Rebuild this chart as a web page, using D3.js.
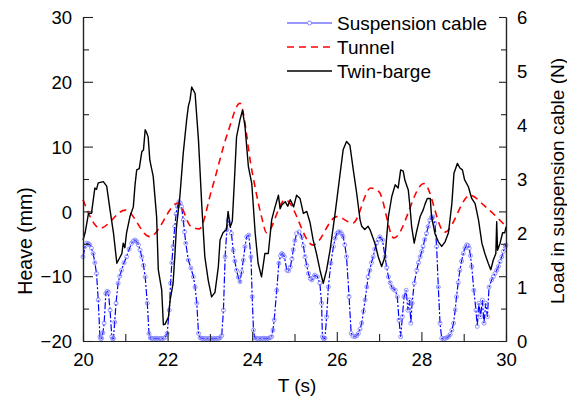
<!DOCTYPE html>
<html><head><meta charset="utf-8">
<script src="https://cdn.jsdelivr.net/npm/d3@7"></script>
<style>
body{margin:0;background:#fff;}
svg{display:block;font-family:"Liberation Sans",Arial,sans-serif;}
</style></head>
<body>
<svg id="c" width="567" height="401"></svg>
<script>
// ---- data ----
const seriesNames = ["Suspension cable","Tunnel","Twin-barge"];
const xTicks = [20,22,24,26,28,30];
const leftTicks = [-20,-10,0,10,20,30];
const rightTicks = [0,1,2,3,4,5,6];

const tunnelT = [20.0,20.4,21.0,21.58,22.25,22.55,22.75,23.04,23.43,23.71,23.99,24.22,24.34,24.78,25.44,26.0,26.38,26.8,27.0,27.35,28.06,28.55,29.15,29.5,30.0];
const tunnelH = [1.8,-2.6,0.2,-3.9,1.3,-2.3,-2.7,3.3,12.3,16.7,6.4,-0.8,-3.3,1.8,-5.2,-0.8,-1.8,3.6,3.0,-4.1,4.3,-3.2,2.5,0.8,-2.3];

const bargeT = [20.00,20.05,20.13,20.20,20.28,20.32,20.36,20.48,20.56,20.64,20.72,20.80,20.88,20.92,20.95,20.99,21.03,21.11,21.19,21.23,21.27,21.33,21.39,21.43,21.47,21.50,21.54,21.58,21.66,21.74,21.78,21.86,21.90,21.94,22.02,22.06,22.13,22.17,22.21,22.29,22.37,22.45,22.49,22.53,22.57,22.65,22.73,22.81,22.88,22.96,23.04,23.12,23.20,23.24,23.31,23.39,23.43,23.48,23.53,23.58,23.63,23.71,23.77,23.83,23.91,23.99,24.07,24.14,24.22,24.30,24.38,24.46,24.54,24.62,24.66,24.70,24.78,24.84,24.90,24.98,25.05,25.13,25.21,25.29,25.37,25.44,25.52,25.60,25.68,25.76,25.84,25.96,26.08,26.15,26.23,26.31,26.39,26.47,26.55,26.59,26.66,26.74,26.79,26.90,26.98,27.06,27.14,27.22,27.30,27.38,27.45,27.51,27.57,27.61,27.69,27.73,27.77,27.83,27.88,27.97,28.04,28.09,28.14,28.21,28.24,28.32,28.40,28.48,28.56,28.64,28.72,28.77,28.85,28.91,28.97,29.02,29.11,29.19,29.27,29.35,29.43,29.50,29.58,29.64,29.70,29.76,29.78,29.80,29.86,29.92,29.97,30.00];
const bargeH = [-4.4,-3.3,-0.3,-0.3,3.6,3.4,4.4,4.6,3.9,0.2,-3.3,-8.0,-7.0,-6.5,-4.9,-5.6,-3.3,-0.8,0.7,4.1,6.4,6.6,9.2,9.5,12.6,12.2,11.5,7.9,5.4,-0.8,-9.0,-12.1,-17.5,-17.4,-16.3,-13.7,-11.1,-7.0,-2.4,2.3,9.0,14.1,16.2,17.2,19.2,18.2,11.0,0.7,-7.0,-10.6,-13.2,-12.5,-8.5,-4.4,-3.3,-2.8,0.0,-2.4,-1.5,4.8,11.5,14.1,15.6,13.1,6.9,4.3,-3.3,-8.0,-10.1,-6.5,-6.5,-1.3,0.7,2.5,0.4,1.0,1.5,0.8,1.8,0.7,2.5,2.0,-0.3,0.0,-1.8,-4.4,-6.5,-9.0,-11.1,-9.0,-6.0,-0.3,5.9,9.5,10.8,10.2,6.4,2.8,-1.3,-2.3,-2.8,-2.3,-2.9,-4.9,-7.0,-8.5,-7.0,-0.8,2.3,4.1,3.6,6.4,6.2,4.8,3.3,0.7,-2.4,-4.9,-3.3,-0.8,0.2,1.2,2.0,2.0,-0.8,-3.4,-4.7,-5.4,-4.7,-3.3,1.2,5.9,7.4,6.7,6.4,4.9,3.8,2.0,1.2,-1.3,-4.9,-6.5,-8.0,-9.0,-7.5,-6.5,-1.6,-6.0,-4.9,-3.3,-3.3,-2.4];

const cableT = [20.00,20.05,20.09,20.13,20.16,20.20,20.24,20.28,20.32,20.36,20.40,20.42,20.44,20.47,20.50,20.54,20.57,20.60,20.64,20.68,20.70,20.72,20.75,20.78,20.83,20.87,20.91,20.97,21.03,21.09,21.15,21.19,21.23,21.27,21.31,21.35,21.39,21.43,21.47,21.52,21.56,21.59,21.62,21.66,21.70,21.74,21.78,21.82,21.86,21.90,21.95,21.99,22.04,22.07,22.10,22.13,22.17,22.20,22.23,22.27,22.30,22.33,22.37,22.40,22.43,22.49,22.55,22.61,22.65,22.69,22.73,22.77,22.81,22.85,22.89,22.93,22.97,23.01,23.05,23.09,23.13,23.17,23.21,23.24,23.28,23.32,23.36,23.40,23.43,23.47,23.51,23.55,23.59,23.63,23.67,23.71,23.75,23.79,23.83,23.87,23.92,23.97,24.00,24.03,24.06,24.10,24.14,24.18,24.22,24.26,24.30,24.34,24.38,24.42,24.46,24.49,24.52,24.58,24.63,24.67,24.70,24.73,24.76,24.82,24.86,24.90,24.94,24.97,25.01,25.05,25.11,25.17,25.21,25.25,25.29,25.33,25.37,25.41,25.45,25.48,25.54,25.60,25.64,25.66,25.69,25.72,25.76,25.80,25.86,25.92,25.96,26.00,26.04,26.08,26.12,26.15,26.19,26.23,26.29,26.34,26.38,26.43,26.47,26.51,26.55,26.59,26.63,26.67,26.71,26.74,26.78,26.82,26.86,26.90,26.94,26.98,27.02,27.08,27.14,27.18,27.22,27.26,27.30,27.34,27.38,27.43,27.47,27.51,27.55,27.59,27.64,27.68,27.72,27.75,27.78,27.83,27.89,27.93,27.97,28.01,28.04,28.08,28.12,28.16,28.20,28.24,28.27,28.32,28.36,28.40,28.44,28.48,28.52,28.56,28.60,28.64,28.68,28.72,28.76,28.80,28.83,28.87,28.91,28.95,28.99,29.03,29.07,29.10,29.13,29.16,29.19,29.24,29.29,29.32,29.36,29.40,29.44,29.48,29.52,29.56,29.60,29.66,29.70,29.74,29.78,29.82,29.86,29.90,29.94,29.98,30.00];
const cableL = [1.56,1.75,1.81,1.80,1.78,1.72,1.62,1.45,1.25,0.76,0.08,0.04,0.05,0.15,0.33,0.88,0.92,0.90,0.57,0.08,0.04,0.05,0.35,0.70,1.07,1.20,1.31,1.45,1.56,1.70,1.81,1.85,1.87,1.84,1.78,1.68,1.56,1.40,1.19,0.70,0.14,0.06,0.05,0.04,0.05,0.05,0.04,0.05,0.04,0.05,0.07,0.14,0.57,1.07,1.45,1.75,2.12,2.35,2.49,2.58,2.55,2.49,2.24,2.02,1.81,1.50,1.35,1.19,1.00,0.70,0.14,0.06,0.05,0.04,0.05,0.04,0.05,0.05,0.04,0.05,0.04,0.05,0.05,0.06,0.10,0.57,1.56,2.06,2.24,2.18,1.99,1.68,1.48,1.31,1.18,1.10,1.28,1.50,1.75,1.93,1.96,1.56,0.82,0.20,0.06,0.05,0.04,0.05,0.04,0.05,0.05,0.04,0.05,0.06,0.08,0.20,0.39,0.94,1.44,1.58,1.62,1.60,1.56,1.31,1.30,1.37,1.52,1.69,1.86,1.99,2.02,1.93,1.76,1.56,1.40,1.25,1.16,1.13,1.18,1.22,1.19,1.07,0.70,0.08,0.04,0.05,0.45,1.00,1.44,1.75,1.90,1.99,2.02,2.02,1.98,1.93,1.78,1.56,0.82,0.14,0.09,0.08,0.10,0.14,0.22,0.33,0.55,0.76,1.00,1.19,1.31,1.45,1.56,1.70,1.81,1.88,1.93,1.87,1.56,1.36,1.19,1.08,1.00,0.96,0.94,0.82,0.39,0.08,0.45,0.82,0.94,0.57,0.76,0.33,0.70,1.07,1.31,1.45,1.56,1.66,1.75,1.88,1.99,2.12,2.24,2.29,2.30,2.18,1.75,1.00,0.33,0.05,0.04,0.05,0.06,0.08,0.12,0.20,0.33,0.58,0.82,1.08,1.31,1.48,1.62,1.72,1.78,1.77,1.72,1.58,1.38,0.94,0.57,0.27,0.70,0.45,0.76,0.33,0.70,0.45,1.00,1.13,1.19,1.25,1.31,1.38,1.47,1.56,1.66,1.75,1.78];

// ---- drawing ----
const svg = d3.select("#c");
const L = 83, R = 506, T = 17, B = 341;
const x = d3.scaleLinear().domain([20,30]).range([L,R]);
const yL = d3.scaleLinear().domain([-20,30]).range([B,T]);
const yR = d3.scaleLinear().domain([0,6]).range([B,T]);
const fs = "18.5px";

const cable = cableT.map((t,i)=>({t, v:cableL[i]}));
const tunnel = tunnelT.map((t,i)=>({t, v:tunnelH[i]}));
const barge = bargeT.map((t,i)=>({t, v:bargeH[i]}));

// blue cable series (right axis)
const lineR = d3.line().x(d=>x(d.t)).y(d=>yR(d.v));
svg.append("path").datum(cable).attr("d", lineR)
  .attr("fill","none").attr("stroke","#0000ff").attr("stroke-width",1.2)
  .attr("stroke-dasharray","7,2,2,2");
svg.append("g").selectAll("circle").data(cable).join("circle")
  .attr("cx", d=>x(d.t)).attr("cy", d=>yR(d.v)).attr("r",2)
  .attr("fill","none").attr("stroke","#7a7aff").attr("stroke-width",0.8);

// tunnel
svg.append("path").datum(tunnel)
  .attr("d", d3.line().x(d=>x(d.t)).y(d=>yL(d.v)).curve(d3.curveMonotoneX))
  .attr("fill","none").attr("stroke","#ff0000").attr("stroke-width",1.6)
  .attr("stroke-dasharray","7,5");
// twin-barge
svg.append("path").datum(barge).attr("d", d3.line().x(d=>x(d.t)).y(d=>yL(d.v)))
  .attr("fill","none").attr("stroke","#000").attr("stroke-width",1.4)
  .attr("stroke-linejoin","round");

// axes
function styleAxis(g){
  g.selectAll("path.domain").attr("stroke","#222").attr("stroke-width",1.2);
  g.selectAll(".tick line").attr("stroke","#222").attr("stroke-width",1.1);
  g.selectAll("text").attr("font-size",fs).attr("fill","#000")
   .attr("font-family",'"Liberation Sans",Arial,sans-serif');
}
const fmt = d3.format("d");
// left
const gLm = svg.append("g").attr("transform",`translate(${L},0)`)
  .call(d3.axisLeft(yL).tickValues(d3.range(-15,30,10)).tickSizeInner(-6).tickSizeOuter(0).tickFormat(""));
styleAxis(gLm);
const gl = svg.append("g").attr("transform",`translate(${L},0)`)
  .call(d3.axisLeft(yL).tickValues(leftTicks).tickFormat(fmt).tickSizeInner(-10).tickSizeOuter(0).tickPadding(11));
styleAxis(gl);
gl.selectAll("text").attr("dy","0.36em");
// right: ticks mirror left axis ticks, labels at integers
const gRt = svg.append("g").attr("transform",`translate(${R},0)`)
  .call(d3.axisRight(yL).tickValues(d3.range(-20,31,10)).tickSizeInner(-7).tickSizeOuter(0).tickFormat(""));
styleAxis(gRt);
const gRm = svg.append("g").attr("transform",`translate(${R},0)`)
  .call(d3.axisRight(yL).tickValues(d3.range(-15,30,10)).tickSizeInner(-5).tickSizeOuter(0).tickFormat(""));
styleAxis(gRm);
const gr = svg.append("g").attr("transform",`translate(${R},0)`)
  .call(d3.axisRight(yR).tickValues(rightTicks).tickFormat(fmt).tickSize(0).tickPadding(11));
styleAxis(gr);
gr.select("path.domain").remove();
gr.selectAll("text").attr("dy","0.36em");
// bottom
const gBm = svg.append("g").attr("transform",`translate(0,${B})`)
  .call(d3.axisBottom(x).tickValues(d3.range(21,30,2)).tickSizeInner(-7).tickSizeOuter(0).tickFormat(""));
styleAxis(gBm);
const gb = svg.append("g").attr("transform",`translate(0,${B})`)
  .call(d3.axisBottom(x).tickValues(xTicks).tickFormat(fmt).tickSizeInner(-9).tickSizeOuter(0).tickPadding(12));
styleAxis(gb);
gb.selectAll("text").attr("dy","0.71em");

// axis titles
svg.append("text").attr("x",297).attr("y",392).attr("text-anchor","middle")
  .attr("font-size","19px").text("T (s)");
svg.append("text").attr("transform","translate(32,241) rotate(-90)").attr("text-anchor","middle")
  .attr("font-size","19.5px").text("Heave (mm)");
svg.append("text").attr("transform","translate(564,181) rotate(-90)").attr("text-anchor","middle")
  .attr("font-size","19px").text("Load in suspension cable (N)");

// legend
const lg = svg.append("g");
const legY = [23,47,71];
const lx0 = 287, lx1 = 332;
lg.append("line").attr("x1",lx0).attr("x2",lx1).attr("y1",legY[0]).attr("y2",legY[0])
  .attr("stroke","#3030ff").attr("stroke-width",1.2);
lg.append("circle").attr("cx",(lx0+lx1)/2).attr("cy",legY[0]).attr("r",2)
  .attr("fill","#fff").attr("stroke","#7a7aff").attr("stroke-width",0.9);
lg.append("line").attr("x1",lx0).attr("x2",lx1).attr("y1",legY[1]).attr("y2",legY[1])
  .attr("stroke","#ff0000").attr("stroke-width",1.6).attr("stroke-dasharray","7,5");
lg.append("line").attr("x1",lx0).attr("x2",lx1).attr("y1",legY[2]).attr("y2",legY[2])
  .attr("stroke","#000").attr("stroke-width",1.4);
lg.selectAll("text.lt").data(seriesNames).join("text").attr("class","lt")
  .attr("x",337).attr("y",(d,i)=>legY[i]+6.8).attr("font-size","19px").text(d=>d);
</script>
</body></html>
